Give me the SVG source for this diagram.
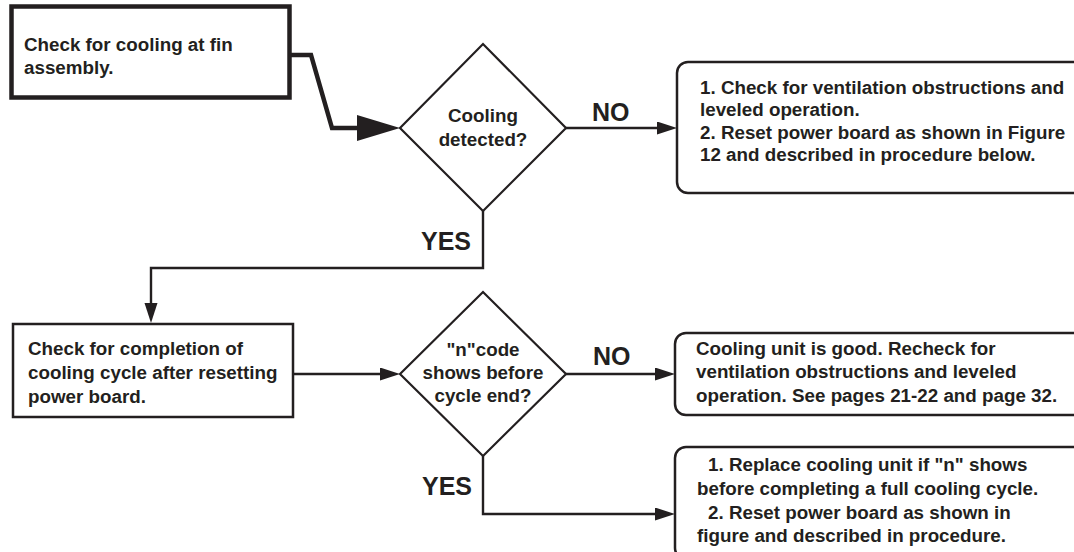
<svg xmlns="http://www.w3.org/2000/svg" width="1074" height="552" viewBox="0 0 1074 552">
<style>
.bg{fill:#ffffff}
.box{fill:#ffffff;stroke:#231f20;stroke-width:2.5}
.thick{fill:#ffffff;stroke:#231f20;stroke-width:4.5}
.dia{fill:#ffffff;stroke:#231f20;stroke-width:2.2}
.t{font-family:"Liberation Sans",Arial,Helvetica,sans-serif;font-weight:bold;font-size:18.8px;fill:#231f20}
.c{text-anchor:middle}
.lbl{font-family:"Liberation Sans",Arial,Helvetica,sans-serif;font-weight:bold;font-size:25px;fill:#231f20}
.ln{fill:none;stroke:#231f20;stroke-width:2.4}
.lnb{fill:none;stroke:#231f20;stroke-width:4.5;stroke-linejoin:miter}
</style>
<defs>
<marker id="ah" markerUnits="userSpaceOnUse" markerWidth="22" markerHeight="14" refX="10" refY="6.5" orient="auto">
<path d="M0,0 L20,6.5 L0,13 z" fill="#231f20"/>
</marker>
<marker id="ahb" markerUnits="userSpaceOnUse" markerWidth="46" markerHeight="28" refX="20" refY="13" orient="auto">
<path d="M0,0 L43,13 L0,26 z" fill="#231f20"/>
</marker>
</defs>
<rect class="bg" x="0" y="0" width="1074" height="552"/>

<g id="connectors">
<path class="lnb" d="M290,55 L311,55 L332,128 L377,128" marker-end="url(#ahb)"/>
<path class="ln" d="M566,128 L667,128" marker-end="url(#ah)"/>
<path class="ln" d="M483,211 L483,268 L151,268 L151,313" marker-end="url(#ah)"/>
<path class="ln" d="M293,374 L390,374" marker-end="url(#ah)"/>
<path class="ln" d="M566,374 L665,374" marker-end="url(#ah)"/>
<path class="ln" d="M483,456 L483,514 L665,514" marker-end="url(#ah)"/>
<text class="lbl" x="592" y="121">NO</text>
<text class="lbl" x="421" y="250">YES</text>
<text class="lbl" x="593" y="365">NO</text>
<text class="lbl" x="422" y="495">YES</text>
</g>

<g id="start">
<rect class="thick" x="11.5" y="6.5" width="278" height="91"/>
<text class="t" x="24" y="51">Check for cooling at fin</text>
<text class="t" x="24" y="74">assembly.</text>
</g>

<g id="decision1">
<polygon class="dia" points="400,128 483,44 566,128 483,211"/>
<text class="t c" x="483" y="122">Cooling</text>
<text class="t c" x="483" y="146">detected?</text>
</g>

<g id="no1">
<rect class="box" x="677" y="62" width="420" height="131" rx="11" ry="11"/>
<text class="t" x="700" y="94">1. Check for ventilation obstructions and</text>
<text class="t" x="700" y="116">leveled operation.</text>
<text class="t" x="700" y="139">2. Reset power board as shown in Figure</text>
<text class="t" x="700" y="161">12 and described in procedure below.</text>
</g>

<g id="step2">
<rect class="box" x="13" y="324" width="280" height="93"/>
<text class="t" x="28" y="355">Check for completion of</text>
<text class="t" x="28" y="379">cooling cycle after resetting</text>
<text class="t" x="28" y="403">power board.</text>
</g>

<g id="decision2">
<polygon class="dia" points="400,374 483,292 566,374 483,456"/>
<text class="t c" x="483" y="356">"n"code</text>
<text class="t c" x="483" y="379">shows before</text>
<text class="t c" x="483" y="402">cycle end?</text>
</g>

<g id="no2">
<rect class="box" x="675" y="333" width="420" height="82" rx="11" ry="11"/>
<text class="t" x="696" y="355">Cooling unit is good. Recheck for</text>
<text class="t" x="696" y="378">ventilation obstructions and leveled</text>
<text class="t" x="696" y="402">operation. See pages 21-22 and page 32.</text>
</g>

<g id="yes2">
<rect class="box" x="675" y="447" width="420" height="112" rx="11" ry="11"/>
<text class="t" x="708" y="471">1. Replace cooling unit if "n" shows</text>
<text class="t" x="697" y="495">before completing a full cooling cycle.</text>
<text class="t" x="708" y="519">2. Reset power board as shown in</text>
<text class="t" x="697" y="542">figure and described in procedure.</text>
</g>
</svg>
